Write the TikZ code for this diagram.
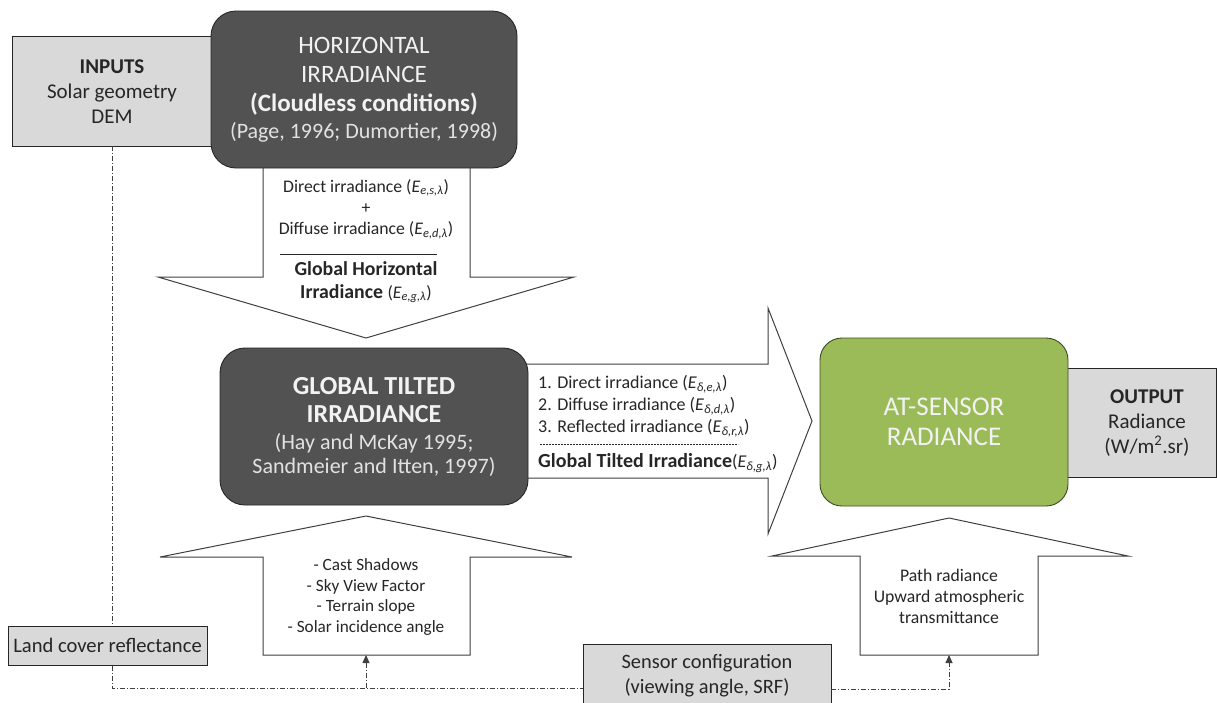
\documentclass[tikz,border=0pt]{standalone}
\usepackage{fontspec}
\setmainfont{Carlito}
\usetikzlibrary{arrows.meta}

\definecolor{boxdark}{HTML}{525252}
\definecolor{boxlight}{HTML}{D9D9D9}
\definecolor{boxgreen}{HTML}{9BBB59}
\definecolor{textlight}{HTML}{F2F2F2}
\definecolor{textref}{HTML}{E2E2E2}
\definecolor{linegray}{HTML}{3F3F3F}
\definecolor{inkdark}{HTML}{262626}

\newcommand{\fsz}[2]{\fontsize{#1}{#2}\selectfont}
\newcommand{\Esub}[1]{(\textit{E}\textsubscript{\textit{#1}})}

\begin{document}
\begin{tikzpicture}[x=1pt,y=-1pt,
  graybox/.style={draw=inkdark, fill=boxlight, line width=0.9pt, inner sep=0pt,
    align=center, text=inkdark},
  darkbox/.style={draw=black!85, fill=boxdark, rounded corners=25pt, line width=0.9pt,
    inner sep=0pt, align=center, text=textlight},
  greenbox/.style={draw=black!60!boxgreen, fill=boxgreen, rounded corners=22pt,
    line width=0.9pt, inner sep=0pt, align=center, text=textlight},
  bigarrow/.style={draw=linegray, fill=white, line width=1pt, line join=miter},
  arrowtext/.style={inner sep=0pt, text=inkdark},
  flowlink/.style={draw=linegray, line width=0.8pt,
    dash pattern=on 5pt off 2pt on 1pt off 2pt},
  linktip/.style={-{Triangle[length=8pt,width=7pt]}}
]
\useasboundingbox (0,0) rectangle (1217,702);

% ---- block arrows (drawn first, boxes overlap their ends)
\path[bigarrow] (263,160) -- (263,277) -- (158,277) -- (366,338) -- (574,277)
  -- (470,277) -- (470,160) -- cycle;
\path[bigarrow] (520,364) -- (768,364) -- (768,308) -- (812,421) -- (768,534)
  -- (768,478) -- (520,478) -- cycle;
\path[bigarrow] (263,655) -- (263,557) -- (160,557) -- (366,516) -- (572,557)
  -- (470,557) -- (470,655) -- cycle;
\path[bigarrow] (860,655) -- (860,556) -- (772,556) -- (949,518) -- (1128,556)
  -- (1038,556) -- (1038,655) -- cycle;

% ---- side boxes partly hidden behind the main boxes
\node[graybox, minimum width=200, minimum height=110] (inputs) at (112,91) {};
\node[arrowtext, font=\fsz{21}{25}, align=center] (inputstext) at (112,92)
  {\textbf{INPUTS}\\Solar geometry\\DEM};
\node[graybox, minimum width=152, minimum height=109, anchor=west] (outbox) at (1064,422.5) {};
\node[arrowtext, font=\fsz{21}{25}, align=center] (outtext) at (1147,423)
  {\textbf{OUTPUT}\\Radiance\\(W/m\textsuperscript{2}.sr)};

% ---- main boxes
\node[darkbox, minimum width=306, minimum height=157, font=\fsz{25}{29}] (horiz) at (364,89.5)
  {HORIZONTAL\\IRRADIANCE\\\textbf{(Cloudless conditions)}\\[-2pt]
   {\fsz{22}{29}\color{textref}(Page, 1996; Dumortier, 1998)}};
\node[darkbox, minimum width=308, minimum height=157, font=\fsz{26}{28}] (tilted) at (374,426.5)
  {\textbf{GLOBAL TILTED}\\\textbf{IRRADIANCE}\\[-1pt]
   {\fsz{22}{25}\color{textref}(Hay and McKay 1995;}\\[-4pt]
   {\fsz{22}{25}\color{textref}Sandmeier and Itten, 1997)}};
\node[greenbox, minimum width=248, minimum height=168, font=\fsz{27}{30}] (atsensor) at (944,422)
  {AT-SENSOR\\RADIANCE};

% ---- texts inside the block arrows
\node[arrowtext, font=\fsz{17.7}{21}, align=center] (dtop) at (366,209)
  {Direct irradiance \Esub{e,s,λ}\\+\\Diffuse irradiance \Esub{e,d,λ}};
\draw[line width=0.7pt, inkdark] (280,254) -- (437,254);
\node[arrowtext, font=\fsz{19.8}{23}, align=center] (dbot) at (366,282)
  {\textbf{Global Horizontal}\\\textbf{Irradiance} {\fsz{17.7}{23}\Esub{e,g,λ}}};

\node[arrowtext, font=\fsz{18}{22}, align=left, anchor=west] (rtop) at (538,406)
  {1. Direct irradiance \Esub{δ,e,λ}\\2. Diffuse irradiance \Esub{δ,d,λ}\\3. Reflected irradiance \Esub{δ,r,λ}};
\draw[line width=0.6pt, inkdark, dash pattern=on 2pt off 1pt] (540,444) -- (738,444);
\node[arrowtext, font=\fsz{20}{22}, anchor=west] (rbot) at (538,463)
  {\textbf{Global Tilted Irradiance}{\fsz{18}{22}\Esub{δ,g,λ}}};

\node[arrowtext, font=\fsz{17.2}{20.7}, align=center] (terrain) at (366,597)
  {- Cast Shadows\\- Sky View Factor\\- Terrain slope\\- Solar incidence angle};
\node[arrowtext, font=\fsz{17.7}{21}, align=center] (atmos) at (949,596)
  {Path radiance\\Upward atmospheric\\transmittance};

% ---- sensor configuration box and dash-dot links
\node[graybox, minimum width=248, minimum height=64, font=\fsz{20.4}{25}] (sensorcfg) at (707,676)
  {Sensor configuration\\(viewing angle, SRF)};

\coordinate (bendL) at (112,688);
\coordinate (footL) at (366,688);
\coordinate (baseL) at (366,655);
\coordinate (bendR) at (949,689);
\coordinate (baseR) at (949,655);

\draw[flowlink] (inputs.south) -- (bendL) -- (sensorcfg.west |- bendL);
\draw[flowlink, linktip] (footL) -- (baseL);
\draw[flowlink, linktip] (sensorcfg.east |- bendR) -- (bendR) -- (baseR);

% ---- land cover box sits on top of the vertical link
\node[graybox, minimum width=199, minimum height=39, font=\fsz{20.6}{25}] (landcover) at (107.5,645.5)
  {Land cover reflectance};
\end{tikzpicture}
\end{document}
